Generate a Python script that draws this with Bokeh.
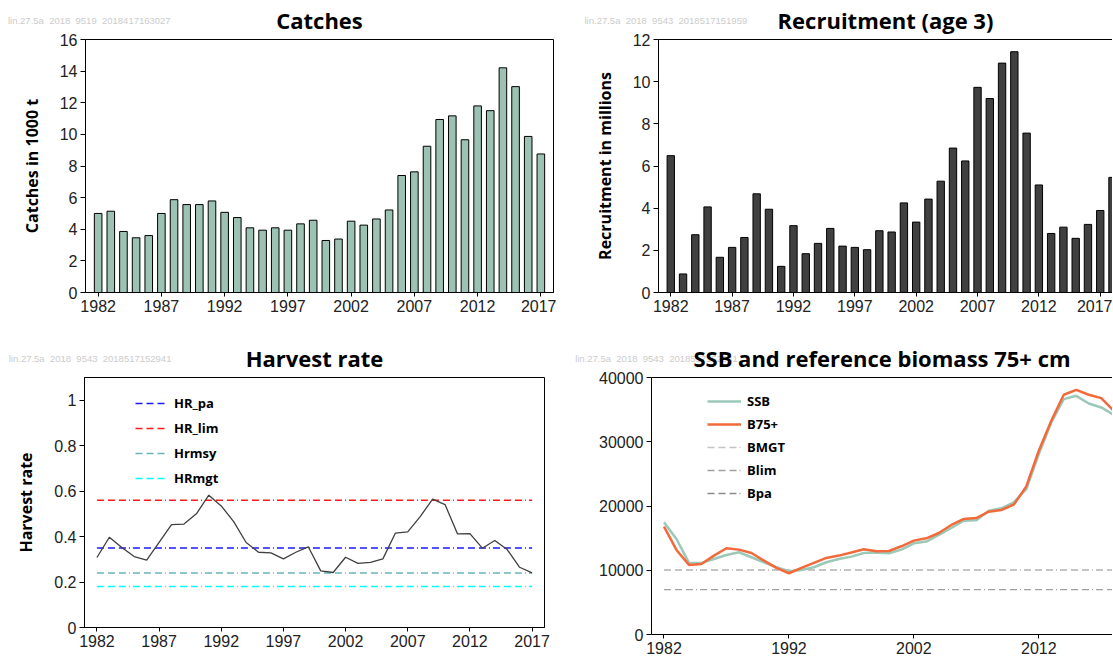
from bokeh.plotting import figure
from bokeh.layouts import column, row
from bokeh.models import (FixedTicker, Legend, LegendItem, LinearAxis,
                          CustomJSTickFormatter, Range1d)
from bokeh.embed import file_html
from bokeh.resources import INLINE

# ---------------- data ----------------
years = list(range(1982, 2018))
catches = [5.0, 5.14, 3.86, 3.46, 3.6, 5.0, 5.87, 5.56, 5.56, 5.79,
           5.07, 4.74, 4.09, 3.94, 4.09, 3.94, 4.34, 4.57, 3.29, 3.38,
           4.51, 4.26, 4.65, 5.22, 7.4, 7.63, 9.25, 10.94, 11.17, 9.66,
           11.8, 11.5, 14.21, 13.02, 9.87, 8.76]

rec_years = list(range(1982, 2019))
recruitment = [6.49, 0.88, 2.74, 4.06, 1.67, 2.14, 2.61, 4.68, 3.95, 1.24,
               3.17, 1.84, 2.33, 3.04, 2.2, 2.14, 2.03, 2.93, 2.87, 4.25,
               3.34, 4.43, 5.28, 6.85, 6.24, 9.73, 9.2, 10.88, 11.42, 7.56,
               5.1, 2.8, 3.1, 2.57, 3.23, 3.89, 5.46]

harvest_rate = [0.308, 0.397, 0.352, 0.312, 0.296, 0.375, 0.453, 0.455, 0.5, 0.582,
                0.535, 0.466, 0.374, 0.331, 0.328, 0.302, 0.331, 0.355, 0.249, 0.242,
                0.309, 0.282, 0.287, 0.302, 0.415, 0.421, 0.488, 0.565, 0.541, 0.412,
                0.413, 0.349, 0.383, 0.343, 0.265, 0.24]
HR_pa, HR_lim, Hrmsy, HRmgt = 0.35, 0.56, 0.24, 0.18

ssb_years = list(range(1982, 2019))
ssb = [17460, 14870, 11140, 11140, 11760, 12380, 12800, 12020, 11240, 10470,
       9840, 10050, 10470, 11240, 11760, 12120, 12690, 12750, 12640, 13210,
       14200, 14460, 15490, 16580, 17720, 17770, 19270, 19640, 20570, 22640,
       28080, 33000, 36630, 37150, 35960, 35340, 34200]
b75 = [16790, 13160, 10830, 10980, 12280, 13420, 13210, 12690, 11500, 10360,
       9530, 10360, 11140, 11920, 12280, 12750, 13260, 12950, 13000, 13730,
       14610, 14970, 15800, 17050, 17980, 18130, 19120, 19380, 20210, 23060,
       28600, 33260, 37310, 38080, 37310, 36790, 34820]
BMGT, Blim, Bpa = 10000, 7000, 10000

xticks5 = list(range(1982, 2018, 5))
xticks10 = list(range(1982, 2013, 10))

titles = ["Catches", "Recruitment (age 3)", "Harvest rate",
          "SSB and reference biomass 75+ cm"]
stamps = ["lin.27.5a \u00a02018 \u00a09519 \u00a02018417163027",
          "lin.27.5a \u00a02018 \u00a09543 \u00a02018517151959",
          "lin.27.5a \u00a02018 \u00a09543 \u00a02018517152941",
          "lin.27.5a \u00a02018 \u00a09543 \u00a02018517152941"]

# ---------------- styling ----------------
TICK_FONT = "Liberation Sans"
BOLD_FONT = "Open Sans"
DASH = "7 4 7 4 7 3 1 3"


def make_fig(fw, fh, bl, br, bt, bb, xr, yr):
    p = figure(frame_width=fw, frame_height=fh,
               min_border_left=bl, min_border_right=br,
               min_border_top=bt, min_border_bottom=bb,
               x_range=xr, y_range=yr, title=None,
               output_backend="svg", toolbar_location=None)
    p.xgrid.visible = False
    p.ygrid.visible = False
    p.background_fill_color = "white"
    p.border_fill_color = "white"
    p.outline_line_color = "black"
    p.outline_line_width = 1
    for ax in list(p.xaxis) + list(p.yaxis):
        ax.major_label_text_font = TICK_FONT
        ax.major_label_text_font_size = "16px"
        ax.major_label_text_color = "#222222"
        ax.axis_line_color = "black"
        ax.major_tick_line_color = "black"
        ax.minor_tick_line_color = None
        ax.major_tick_in = 0
        ax.axis_label_text_font = BOLD_FONT
        ax.axis_label_text_font_style = "bold"
        ax.axis_label_text_font_size = "16px"
        ax.axis_label_text_color = "black"
    p.xaxis.major_tick_out = 4
    p.yaxis.major_tick_out = 5
    p.xaxis.major_label_standoff = 3
    p.yaxis.major_label_standoff = 3
    p.yaxis.axis_label_standoff = 14
    return p


def add_header(p, title, stamp, stamp_at, top_line):
    """Title (as axis label) plus the faint run stamp, on a bare top axis."""
    ax = LinearAxis(ticker=FixedTicker(ticks=[stamp_at]),
                    formatter=CustomJSTickFormatter(code="return s;",
                                                    args=dict(s=stamp)),
                    axis_label=title)
    ax.axis_line_color = "black" if top_line else None
    ax.major_tick_line_color = None
    ax.minor_tick_line_color = None
    ax.major_tick_in = 0
    ax.major_tick_out = 0
    ax.major_label_standoff = 14
    ax.major_label_text_font = TICK_FONT
    ax.major_label_text_font_size = "9.5px"
    ax.major_label_text_color = "#cccccc"
    ax.axis_label_text_font = BOLD_FONT
    ax.axis_label_text_font_style = "bold"
    ax.axis_label_text_font_size = "22px"
    ax.axis_label_text_color = "black"
    ax.axis_label_standoff = -23
    p.add_layout(ax, "above")


def legend(items, loc, gw, spacing, standoff):
    return Legend(items=items, location=loc, glyph_width=gw, glyph_height=20,
                  label_height=20, label_standoff=standoff, spacing=spacing,
                  padding=0, margin=0, border_line_color=None,
                  background_fill_alpha=0, label_text_font=BOLD_FONT,
                  label_text_font_style="bold", label_text_font_size="13px",
                  label_text_color="black")


# ---- Catches ----
p1 = make_fig(468, 253, 85, 3, 39, 28, Range1d(1981, 2018), Range1d(0, 16))
p1.vbar(x=years, top=catches, width=0.6, fill_color="#9BC2B3",
        line_color="black", line_width=1)
p1.xaxis.ticker = FixedTicker(ticks=xticks5)
p1.yaxis.ticker = FixedTicker(ticks=list(range(0, 17, 2)))
p1.yaxis.axis_label = "Catches in 1000 t"
add_header(p1, titles[0], stamps[0], 1981.3, False)

# ---- Recruitment ----
p2 = make_fig(454, 253, 102, 0, 39, 28, Range1d(1981, 2018), Range1d(0, 12))
p2.outline_line_color = None
p2.vbar(x=rec_years, top=recruitment, width=0.6, fill_color="#404040",
        line_color="black", line_width=1)
p2.xaxis.ticker = FixedTicker(ticks=xticks5)
p2.yaxis.ticker = FixedTicker(ticks=list(range(0, 13, 2)))
p2.yaxis.axis_label = "Recruitment in millions"
add_header(p2, titles[1], stamps[1], 1981.6, True)

# ---- Harvest rate ----
p3 = make_fig(460, 250, 84, 12, 56, 35, Range1d(1981, 2018), Range1d(0, 1.1))
p3.xaxis.ticker = FixedTicker(ticks=xticks5)
p3.yaxis.ticker = FixedTicker(ticks=[0, 0.2, 0.4, 0.6, 0.8, 1.0])
p3.yaxis.formatter = CustomJSTickFormatter(
    code="return String(Math.round(tick * 10) / 10);")
p3.yaxis.axis_label = "Harvest rate"
xs = [years[0], years[-1]]
r_lim = p3.line(xs, [HR_lim, HR_lim], line_color="#FF1A1A", line_width=1.5,
                line_dash=DASH)
r_pa = p3.line(xs, [HR_pa, HR_pa], line_color="#1A1AFF", line_width=1.5,
               line_dash=DASH)
r_msy = p3.line(xs, [Hrmsy, Hrmsy], line_color="#6AB4B8", line_width=1.5,
                line_dash=DASH)
r_mgt = p3.line(xs, [HRmgt, HRmgt], line_color="#00FFFF", line_width=1.5,
                line_dash=DASH)
p3.line(years, harvest_rate, line_color="#404040", line_width=1.3)
p3.add_layout(legend([LegendItem(label="HR_pa", renderers=[r_pa]),
                      LegendItem(label="HR_lim", renderers=[r_lim]),
                      LegendItem(label="Hrmsy", renderers=[r_msy]),
                      LegendItem(label="HRmgt", renderers=[r_mgt])],
                     (51, 139), 32, 5, 7))
add_header(p3, titles[2], stamps[2], 1981.45, False)

# ---- SSB ----
p4 = make_fig(461, 257, 95, 0, 57, 27, Range1d(1981, 2017.9),
              Range1d(0, 40000))
p4.outline_line_color = None
p4.xaxis.ticker = FixedTicker(ticks=xticks10)
p4.yaxis.ticker = FixedTicker(ticks=[0, 10000, 20000, 30000, 40000])
xs4 = [ssb_years[0], ssb_years[-1]]
r_bpa = p4.line(xs4, [Bpa, Bpa], line_color="#8A8A8A", line_width=1.3,
                line_dash=DASH)
r_bmgt = p4.line(xs4, [BMGT, BMGT], line_color="#C4C4C4", line_width=1.3,
                 line_dash=DASH)
r_blim = p4.line(xs4, [Blim, Blim], line_color="#A0A0A0", line_width=1.3,
                 line_dash=DASH)
r_ssb = p4.line(ssb_years, ssb, line_color="#9CC8B8", line_width=2.5)
r_b75 = p4.line(ssb_years, b75, line_color="#F26A3A", line_width=2.5)
p4.add_layout(legend([LegendItem(label="SSB", renderers=[r_ssb]),
                      LegendItem(label="B75+", renderers=[r_b75]),
                      LegendItem(label="BMGT", renderers=[r_bmgt]),
                      LegendItem(label="Blim", renderers=[r_blim]),
                      LegendItem(label="Bpa", renderers=[r_bpa])],
                     (56, 131), 34, 3, 6))
add_header(p4, titles[3], stamps[3], 1981.4, True)

layout = column(row(p1, p2), row(p3, p4))

open("out.html", "w").write(file_html(layout, INLINE))
